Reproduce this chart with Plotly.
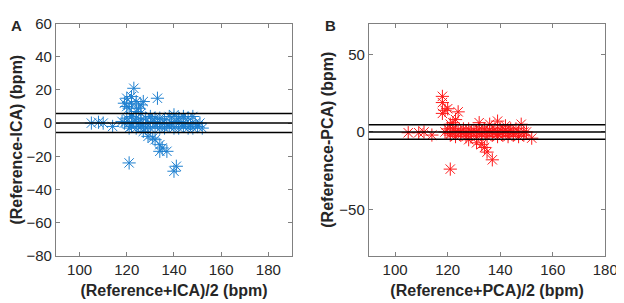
import plotly.graph_objects as go

# ---- Panel A: Reference vs ICA ----
ica_mean = [105, 108, 110, 114,
            119, 120, 120, 122, 123, 122, 124, 125, 127, 126, 133, 121, 124, 126,
            120, 122, 124, 126, 128, 130, 132, 134, 136, 138, 140, 142, 144, 146, 148,
            118, 119, 121, 123, 125, 127, 129, 131, 133, 135, 137, 139, 141, 143, 145, 147, 149, 151,
            121, 122, 124, 126, 128, 130, 132, 134, 136, 138, 140, 142, 144, 146, 148, 150, 152,
            121, 127, 129, 131, 132, 134, 134, 137, 135, 141, 140]
ica_diff = [0, 0.5, 0, -2,
            12, 10, 15, 16, 21, 12, 13, 9, 13, 11, 15, 9, 7, 6,
            3, 4, 3, 2, 3, 4, 3, 3, 2, 4, 5, 3, 4, 3, 4,
            1, 0, 0, 1, 0, -1, 0, 1, 0, 0, -1, 0, 1, 0, 0, -1, 0, 0,
            -3, -2, -3, -2, -3, -3, -2, -3, -3, -2, -3, -3, -2, -3, -3, -2, -3,
            -24, -5, -8, -9, -10, -13, -17, -17, -15, -26, -29]
ica_lines = [5.8, 0.1, -5.6]

# ---- Panel B: Reference vs PCA ----
pca_mean = [105, 109, 111, 114,
            118, 118, 119, 120, 118, 124, 123, 122, 121, 132, 139, 136, 142, 148,
            120, 122, 124, 126, 128, 130, 132, 134, 136, 138, 140, 142, 144, 146, 150,
            119, 121, 123, 125, 127, 129, 131, 133, 135, 137, 139, 141, 143, 145, 147, 149,
            121, 123, 125, 127, 129, 131, 133, 135, 137, 139, 141, 143, 145, 147, 149, 152,
            121, 131, 134, 135, 137, 133, 128]
pca_diff = [-0.5, -0.5, 0, -2,
            23, 19, 14, 15, 12, 13, 8, 6, 5, 6, 7, 5, 4, 5,
            2, 2, 1, 2, 2, 1, 2, 2, 1, 2, 2, 1, 2, 2, 0,
            0, -1, 0, 0, -1, 0, 0, -1, 0, 0, -1, 0, 0, -1, 0, 0,
            -2, -3, -2, -3, -2, -3, -2, -3, -2, -3, -2, -3, -2, -3, -2, -4,
            -24, -7, -10, -13, -18, -8, -5]
pca_lines = [4.6, 0.0, -4.7]

x_ticks = [100, 120, 140, 160, 180]
ya_ticks = [-80, -60, -40, -20, 0, 20, 40, 60]
yb_ticks = [-50, 0, 50]

font_family = "Liberation Sans, Arial, sans-serif"
axis_col = "#808080"
text_col = "#262626"

fig = go.Figure()
fig.add_trace(go.Scatter(x=ica_mean, y=ica_diff, mode="markers", xaxis="x", yaxis="y",
                         marker=dict(symbol="asterisk-open", size=11, color="#1f80d0",
                                     line=dict(width=1, color="#1f80d0")),
                         showlegend=False))
fig.add_trace(go.Scatter(x=pca_mean, y=pca_diff, mode="markers", xaxis="x2", yaxis="y2",
                         marker=dict(symbol="asterisk-open", size=11, color="#ff1a1a",
                                     line=dict(width=1, color="#ff1a1a")),
                         showlegend=False))

shapes = []
for v in ica_lines:
    shapes.append(dict(type="line", xref="x domain", yref="y", x0=0, x1=1, y0=v, y1=v,
                       line=dict(color="black", width=1.5)))
for v in pca_lines:
    shapes.append(dict(type="line", xref="x2 domain", yref="y2", x0=0, x1=1, y0=v, y1=v,
                       line=dict(color="black", width=1.5)))

ax_common = dict(showgrid=False, zeroline=False, showline=True, linecolor=axis_col, linewidth=1,
                 mirror="ticks", ticks="inside", ticklen=4, tickcolor=axis_col,
                 ticklabeloverflow="allow",
                 tickfont=dict(family=font_family, size=15, color=text_col))
title_font = dict(family=font_family, size=16, color=text_col, weight="bold")

W, H = 624, 303
fig.update_layout(
    width=W, height=H, margin=dict(l=0, r=0, t=0, b=0),
    paper_bgcolor="white", plot_bgcolor="white",
    xaxis=dict(domain=[49 / W, 290 / W], range=[90, 190], tickvals=x_ticks, anchor="y",
               title=dict(text="(Reference+ICA)/2 (bpm)", font=title_font, standoff=7), **ax_common),
    yaxis=dict(domain=[1 - 253 / H, 1 - 7 / H], range=[-80, 60], tickvals=ya_ticks, anchor="x",
               title=dict(text="(Reference-ICA) (bpm)", font=title_font, standoff=1), **ax_common),
    xaxis2=dict(domain=[368.5 / W, 610 / W], range=[90, 180], tickvals=x_ticks, anchor="y2",
                title=dict(text="(Reference+PCA)/2 (bpm)", font=title_font, standoff=7), **ax_common),
    yaxis2=dict(domain=[1 - 253 / H, 1 - 7 / H], range=[-80, 70], tickvals=yb_ticks, anchor="x2",
                title=dict(text="(Reference-PCA) (bpm)", font=title_font, standoff=1), **ax_common),
    shapes=shapes,
    annotations=[
        dict(text="<b>A</b>", x=9 / W, y=1 - 9 / H, xref="paper", yref="paper", showarrow=False,
             xanchor="center", yanchor="middle", font=dict(family=font_family, size=15, color=text_col)),
        dict(text="<b>B</b>", x=329 / W, y=1 - 9 / H, xref="paper", yref="paper", showarrow=False,
             xanchor="center", yanchor="middle", font=dict(family=font_family, size=15, color=text_col)),
    ],
)

fig.write_html("out.html")
